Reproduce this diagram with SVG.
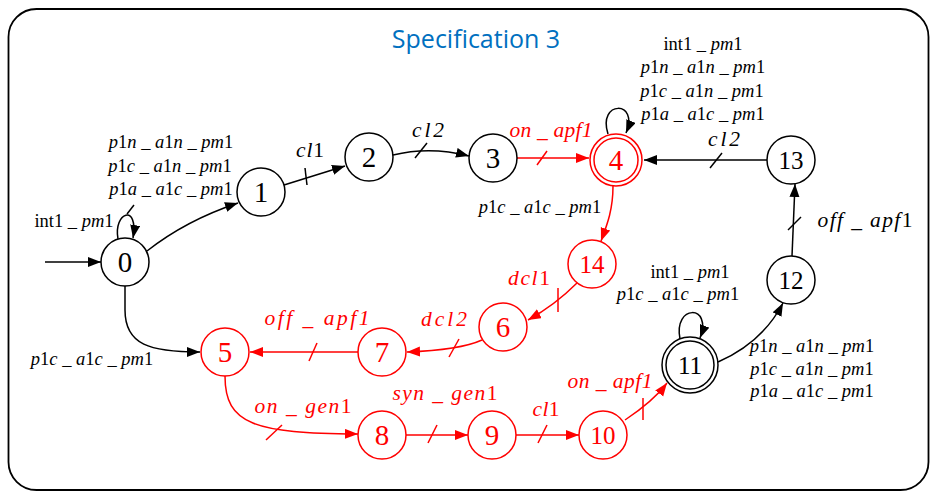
<svg xmlns="http://www.w3.org/2000/svg" width="931" height="491" viewBox="0 0 931 491">
<defs>
<marker id="ab" markerUnits="userSpaceOnUse" markerWidth="14" markerHeight="11" refX="13" refY="5" orient="auto"><path d="M0,0 L13,5 L0,10 z" fill="#000"/></marker>
<marker id="ar" markerUnits="userSpaceOnUse" markerWidth="14" markerHeight="11" refX="13" refY="5" orient="auto"><path d="M0,0 L13,5 L0,10 z" fill="#f00"/></marker>
<style>
text{font-family:'Liberation Serif','Times New Roman',serif}
.n{fill:#fff;stroke:#000;stroke-width:1.5}
.nr{fill:#fff;stroke:#f00;stroke-width:1.5}
.nt{font-size:29px;text-anchor:middle;fill:#000}
.ntr{font-size:29px;text-anchor:middle;fill:#f00}
.d2{font-size:25px}
.e{fill:none;stroke:#000;stroke-width:1.5}
.er{fill:none;stroke:#f00;stroke-width:1.5}
.l{font-style:italic;font-size:18.5px;text-anchor:middle;fill:#000}
.lb{font-style:italic;font-size:21.5px;text-anchor:middle;fill:#000}
.lr{font-style:italic;font-size:21.5px;text-anchor:middle;fill:#f00}
.u{font-style:normal}
.title{font-family:'Open Sans','Liberation Sans',sans-serif;font-size:25px;fill:#0070C0;text-anchor:middle}
</style>
</defs>
<rect x="8.5" y="9" width="920" height="481" rx="28" fill="#fff" stroke="#000" stroke-width="1.8"/>
<text class="title" x="476" y="48">Specification 3</text>

<g id="connectors">
<path class="e" d="M45,262 H101" marker-end="url(#ab)"/>
<path class="e" d="M118,239 C113,212 139,203 133,238" marker-end="url(#ab)"/>
<path class="e" d="M127,214 L134,205"/>
<path class="e" d="M147,251 C175,229 205,214 238,203" marker-end="url(#ab)"/>
<path class="e" d="M284,185 L345,166" marker-end="url(#ab)"/>
<path class="e" d="M305,168 L307,185"/>
<path class="e" d="M393,155 Q430,146 469,156" marker-end="url(#ab)"/>
<path class="e" d="M415,158 L427,143"/>
<path class="er" d="M517,158 L589,158" marker-end="url(#ar)"/>
<path class="er" d="M537,165 L547,151"/>
<path class="e" d="M608,134 C597,100 640,100 626,133" marker-end="url(#ab)"/>
<path class="e" d="M767,160 L644,160" marker-end="url(#ab)"/>
<path class="e" d="M710,168 L722,153"/>
<path class="e" d="M792,256 L795,184" marker-end="url(#ab)"/>
<path class="e" d="M788,230 L801,217"/>
<path class="e" d="M718,362 C745,350 768,332 783,303" marker-end="url(#ab)"/>
<path class="e" d="M680,339 C673,304 713,304 700,338" marker-end="url(#ab)"/>
<path class="er" d="M625,420 C640,410 655,399 667,383" marker-end="url(#ar)"/>
<path class="er" d="M643,398 L643,420"/>
<path class="er" d="M516,435 L579,435" marker-end="url(#ar)"/>
<path class="er" d="M538,443 L547,425"/>
<path class="er" d="M406,435 L468,435" marker-end="url(#ar)"/>
<path class="er" d="M428,443 L437,425"/>
<path class="er" d="M225,376 C225,425 255,433 358,434" marker-end="url(#ar)"/>
<path class="er" d="M266,440 L282,425"/>
<path class="er" d="M358,352 L250,352" marker-end="url(#ar)"/>
<path class="er" d="M309,361 L317,343"/>
<path class="er" d="M482,340 Q460,350 407,352" marker-end="url(#ar)"/>
<path class="er" d="M449,357 L459,339"/>
<path class="er" d="M577,283 Q555,305 528,320" marker-end="url(#ar)"/>
<path class="er" d="M558,288 L558,312"/>
<path class="er" d="M613,186 C613,210 607,225 601,241" marker-end="url(#ar)"/>
<path class="e" d="M125,286 L125,310 C125,345 150,352 200,352" marker-end="url(#ab)"/>
</g>

<g id="labels">
<text class="l" x="74" y="227"><tspan class="u">int1 _ </tspan>pm<tspan class="u">1</tspan></text>
<text class="l" x="171" y="148">p<tspan class="u">1</tspan>n _ a<tspan class="u">1</tspan>n _ pm<tspan class="u">1</tspan></text>
<text class="l" x="170" y="172">p<tspan class="u">1</tspan>c _ a<tspan class="u">1</tspan>n _ pm<tspan class="u">1</tspan></text>
<text class="l" x="171" y="195">p<tspan class="u">1</tspan>a _ a<tspan class="u">1</tspan>c _ pm<tspan class="u">1</tspan></text>
<text class="lb" x="310" y="157" textLength="28" lengthAdjust="spacing">cl<tspan class="u">1</tspan></text>
<text class="lb" x="428" y="137" textLength="32" lengthAdjust="spacing">cl2</text>
<text class="lr" x="551" y="137" textLength="83" lengthAdjust="spacing">on _ apf1</text>
<text class="l" x="703" y="50"><tspan class="u">int1 _ </tspan>pm<tspan class="u">1</tspan></text>
<text class="l" x="703" y="73">p<tspan class="u">1</tspan>n _ a<tspan class="u">1</tspan>n _ pm<tspan class="u">1</tspan></text>
<text class="l" x="702" y="97">p<tspan class="u">1</tspan>c _ a<tspan class="u">1</tspan>n _ pm<tspan class="u">1</tspan></text>
<text class="l" x="703" y="120">p<tspan class="u">1</tspan>a _ a<tspan class="u">1</tspan>c _ pm<tspan class="u">1</tspan></text>
<text class="lb" x="724" y="146" textLength="32" lengthAdjust="spacing">cl2</text>
<text class="lb" x="865" y="227" textLength="95" lengthAdjust="spacing">off _ apf<tspan class="u">1</tspan></text>
<text class="l" x="540" y="213">p<tspan class="u">1</tspan>c _ a<tspan class="u">1</tspan>c _ pm<tspan class="u">1</tspan></text>
<text class="lr" x="529" y="285" textLength="42" lengthAdjust="spacing">dcl<tspan class="u">1</tspan></text>
<text class="lr" x="444" y="326" textLength="46" lengthAdjust="spacing">dcl2</text>
<text class="lr" x="317" y="325" textLength="105" lengthAdjust="spacing">off _ apf1</text>
<text class="l" x="92" y="365">p<tspan class="u">1</tspan>c _ a<tspan class="u">1</tspan>c _ pm<tspan class="u">1</tspan></text>
<text class="lr" x="303" y="413" textLength="97" lengthAdjust="spacing">on _ gen<tspan class="u">1</tspan></text>
<text class="lr" x="445" y="400" textLength="105" lengthAdjust="spacing">syn _ gen<tspan class="u">1</tspan></text>
<text class="lr" x="546" y="416" textLength="27" lengthAdjust="spacing">cl<tspan class="u">1</tspan></text>
<text class="lr" x="610" y="388" textLength="85" lengthAdjust="spacing">on _ apf1</text>
<text class="l" x="690" y="278"><tspan class="u">int1 _ </tspan>pm<tspan class="u">1</tspan></text>
<text class="l" x="678" y="300">p<tspan class="u">1</tspan>c _ a<tspan class="u">1</tspan>c _ pm<tspan class="u">1</tspan></text>
<text class="l" x="812" y="352">p<tspan class="u">1</tspan>n _ a<tspan class="u">1</tspan>n _ pm<tspan class="u">1</tspan></text>
<text class="l" x="812" y="375">p<tspan class="u">1</tspan>c _ a<tspan class="u">1</tspan>n _ pm<tspan class="u">1</tspan></text>
<text class="l" x="812" y="397">p<tspan class="u">1</tspan>a _ a<tspan class="u">1</tspan>c _ pm<tspan class="u">1</tspan></text>
</g>

<g id="node0"><circle class="n" cx="125" cy="262" r="24"/><text class="nt" x="125" y="272">0</text></g>
<g id="node1"><circle class="n" cx="261" cy="192" r="24"/><text class="nt" x="261" y="202">1</text></g>
<g id="node2"><circle class="n" cx="369" cy="157" r="24"/><text class="nt" x="369" y="167">2</text></g>
<g id="node3"><circle class="n" cx="493" cy="158" r="24"/><text class="nt" x="493" y="168">3</text></g>
<g id="node4"><circle class="nr" cx="616" cy="160" r="26"/><circle class="nr" cx="616" cy="160" r="22"/><text class="ntr" x="616" y="170">4</text></g>
<g id="node13"><circle class="n" cx="791" cy="160" r="24"/><text class="nt d2" x="791" y="169">13</text></g>
<g id="node12"><circle class="n" cx="791" cy="280" r="24"/><text class="nt d2" x="791" y="289">12</text></g>
<g id="node14"><circle class="nr" cx="592" cy="264" r="24"/><text class="ntr d2" x="592" y="273">14</text></g>
<g id="node6"><circle class="nr" cx="503" cy="327" r="24"/><text class="ntr" x="503" y="337">6</text></g>
<g id="node7"><circle class="nr" cx="382" cy="352" r="24"/><text class="ntr" x="382" y="362">7</text></g>
<g id="node5"><circle class="nr" cx="225" cy="352" r="24"/><text class="ntr" x="225" y="362">5</text></g>
<g id="node8"><circle class="nr" cx="382" cy="435" r="24"/><text class="ntr" x="382" y="445">8</text></g>
<g id="node9"><circle class="nr" cx="492" cy="435" r="24"/><text class="ntr" x="492" y="445">9</text></g>
<g id="node10"><circle class="nr" cx="603" cy="435" r="24"/><text class="ntr d2" x="603" y="444">10</text></g>
<g id="node11"><circle class="n" cx="690" cy="365" r="28"/><circle class="n" cx="690" cy="365" r="24"/><text class="nt d2" x="690" y="374">11</text></g>
</svg>
